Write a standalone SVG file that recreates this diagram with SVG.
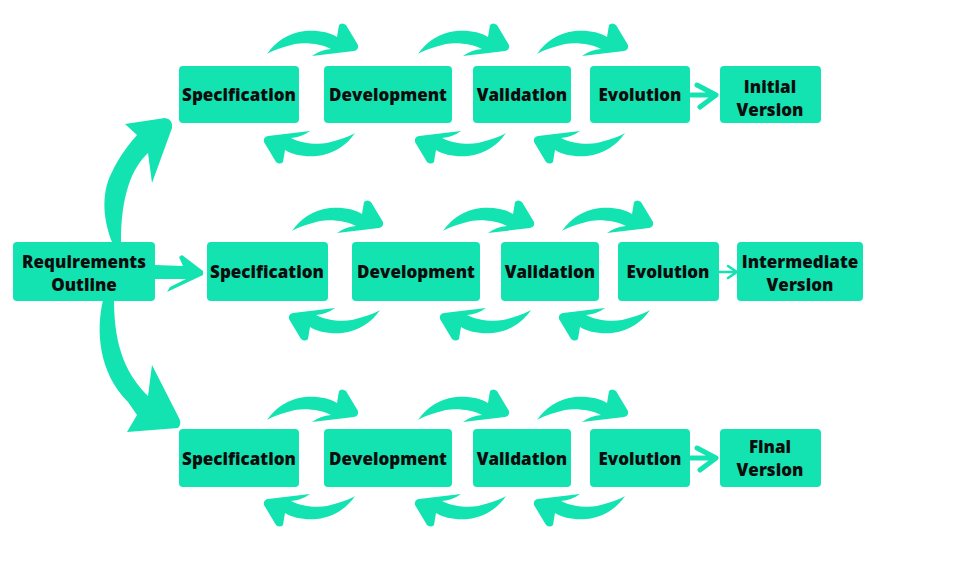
<svg xmlns="http://www.w3.org/2000/svg" xmlns:xlink="http://www.w3.org/1999/xlink" width="956" height="570" viewBox="0 0 956 570">
<style>
.box{fill:#13e3b1}
.lbl{font-family:"Open Sans","Liberation Sans",sans-serif;font-weight:800;font-size:17px;fill:#0d0d0d;text-anchor:middle}
.arr{fill:#13e3b1}
.sa{fill:none;stroke:#13e3b1;stroke-width:5;stroke-linecap:round;stroke-linejoin:round}
.sa2{fill:none;stroke:#13e3b1;stroke-width:2.5;stroke-linecap:round;stroke-linejoin:round}
</style>
<defs>
<path id="ca" d="M7,34 C15,22 28,13 45,11 C58,10 69,12 77,17 L79,5 Q82,2 86,5 L98,25 Q99,30 94,31 L52,36 Q60,30 71,29 C62,24 46,22 35,24 C22,27 12,31 7,34 Z"/>
</defs>
<rect width="956" height="570" fill="#ffffff"/>
<g id="connectors">
<path class="arr" d="M112,242 C104,222 100,195 112,172 C120,155 130,143 137,135 L125,124 L165,118 Q173,119 172,128 L152,183 L148,153 C132,168 121,195 121,242 Z"/>
<path class="arr" d="M103,300 C96,330 98,372 128,402 L137,415 L127,432 L178,428 Q182,424 179,418 L152,365 L148,396 C128,376 114,350 114,300 Z"/>
<path class="arr" d="M155,265 L183,266 L179,257 L182,255 L203,271 L203,275 L167,292 L170,287 L186,279 L155,279 Z"/>
<use xlink:href="#ca" class="arr" transform="translate(260,20)"/>
<use xlink:href="#ca" class="arr" transform="translate(411,20)"/>
<use xlink:href="#ca" class="arr" transform="translate(530,20)"/>
<use xlink:href="#ca" class="arr" transform="translate(260,121) rotate(180 51 23)"/>
<use xlink:href="#ca" class="arr" transform="translate(411,121) rotate(180 51 23)"/>
<use xlink:href="#ca" class="arr" transform="translate(530,121) rotate(180 51 23)"/>
<path class="sa" d="M691,95 H714 M697,85 L716,95 L700,107"/>
<use xlink:href="#ca" class="arr" transform="translate(285,197)"/>
<use xlink:href="#ca" class="arr" transform="translate(436,197)"/>
<use xlink:href="#ca" class="arr" transform="translate(555,197)"/>
<use xlink:href="#ca" class="arr" transform="translate(285,298) rotate(180 51 23)"/>
<use xlink:href="#ca" class="arr" transform="translate(436,298) rotate(180 51 23)"/>
<use xlink:href="#ca" class="arr" transform="translate(555,298) rotate(180 51 23)"/>
<path class="sa2" d="M719,272 H736 M728,266 L737,272 L728,278"/>
<use xlink:href="#ca" class="arr" transform="translate(260,386)"/>
<use xlink:href="#ca" class="arr" transform="translate(411,386)"/>
<use xlink:href="#ca" class="arr" transform="translate(530,386)"/>
<use xlink:href="#ca" class="arr" transform="translate(260,484) rotate(180 51 23)"/>
<use xlink:href="#ca" class="arr" transform="translate(411,484) rotate(180 51 23)"/>
<use xlink:href="#ca" class="arr" transform="translate(530,484) rotate(180 51 23)"/>
<path class="sa" d="M691,458 H714 M697,448 L716,458 L700,470"/>
</g>
<g id="req"><rect class="box" x="13" y="242" width="142" height="59" rx="4"/><text class="lbl" x="84" y="268">Requirements</text><text class="lbl" x="84" y="291">Outline</text></g>
<g id="spec1"><rect class="box" x="179" y="66" width="120" height="57" rx="4"/><text class="lbl" x="239" y="101">Specification</text></g>
<g id="dev1"><rect class="box" x="324" y="66" width="128" height="57" rx="4"/><text class="lbl" x="388" y="101">Development</text></g>
<g id="val1"><rect class="box" x="473" y="66" width="98" height="57" rx="4"/><text class="lbl" x="522" y="101">Validation</text></g>
<g id="evo1"><rect class="box" x="590" y="66" width="100" height="57" rx="4"/><text class="lbl" x="640" y="101">Evolution</text></g>
<g id="ver1"><rect class="box" x="720" y="66" width="101" height="57" rx="4"/><text class="lbl" x="770" y="93">Initial</text><text class="lbl" x="770" y="116">Version</text></g>
<g id="spec2"><rect class="box" x="207" y="242" width="121" height="59" rx="4"/><text class="lbl" x="267" y="278">Specification</text></g>
<g id="dev2"><rect class="box" x="352" y="242" width="128" height="59" rx="4"/><text class="lbl" x="416" y="278">Development</text></g>
<g id="val2"><rect class="box" x="501" y="242" width="98" height="59" rx="4"/><text class="lbl" x="550" y="278">Validation</text></g>
<g id="evo2"><rect class="box" x="618" y="242" width="101" height="59" rx="4"/><text class="lbl" x="668" y="278">Evolution</text></g>
<g id="ver2"><rect class="box" x="737" y="242" width="126" height="59" rx="4"/><text class="lbl" x="800" y="268">Intermediate</text><text class="lbl" x="800" y="291">Version</text></g>
<g id="spec3"><rect class="box" x="179" y="429" width="120" height="58" rx="4"/><text class="lbl" x="239" y="465">Specification</text></g>
<g id="dev3"><rect class="box" x="324" y="429" width="128" height="58" rx="4"/><text class="lbl" x="388" y="465">Development</text></g>
<g id="val3"><rect class="box" x="473" y="429" width="98" height="58" rx="4"/><text class="lbl" x="522" y="465">Validation</text></g>
<g id="evo3"><rect class="box" x="590" y="429" width="100" height="58" rx="4"/><text class="lbl" x="640" y="465">Evolution</text></g>
<g id="ver3"><rect class="box" x="720" y="429" width="101" height="58" rx="4"/><text class="lbl" x="770" y="453">Final</text><text class="lbl" x="770" y="476">Version</text></g>
</svg>
